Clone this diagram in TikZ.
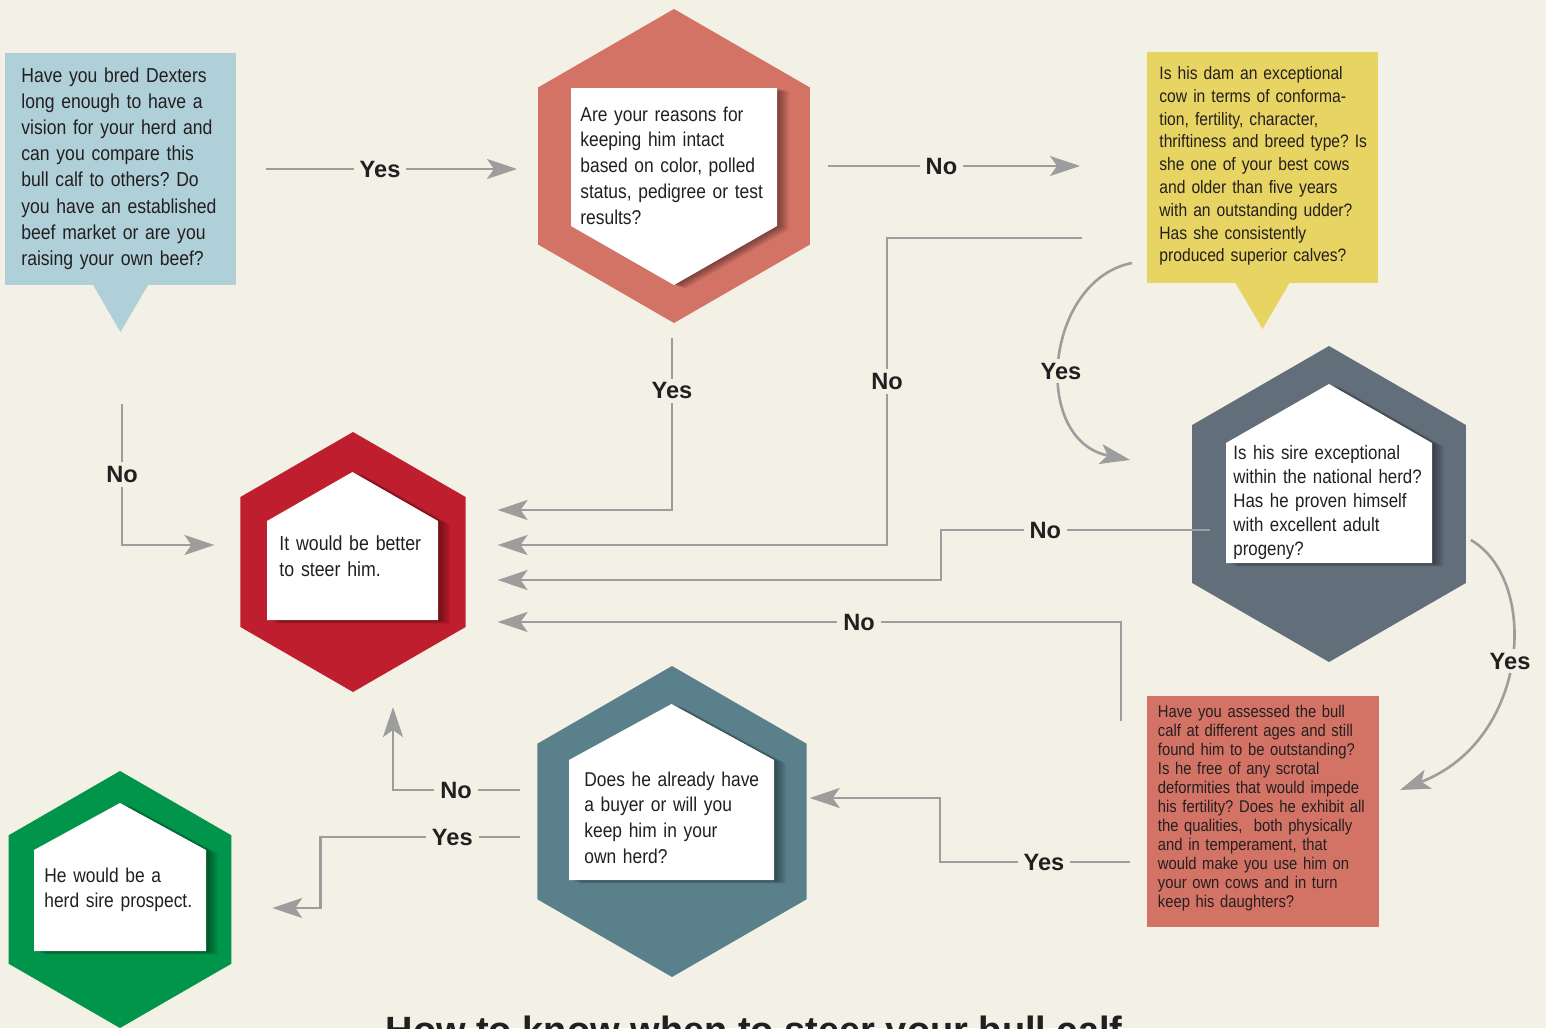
\documentclass[tikz,border=0pt]{standalone}
\usepackage{fontspec}
\setmainfont{Liberation Sans}[FakeStretch=0.87]
\newfontfamily\labelfont{Liberation Sans}
\usetikzlibrary{shapes.geometric,arrows.meta,calc}
\frenchspacing

\definecolor{bgcream}{RGB}{243,240,229}
\definecolor{inktext}{RGB}{35,31,32}
\definecolor{linegray}{RGB}{158,157,157}
\definecolor{boxblue}{RGB}{175,208,216}
\definecolor{boxyellow}{RGB}{232,212,98}
\definecolor{hexsalmon}{RGB}{211,115,102}
\definecolor{hexred}{RGB}{190,30,45}
\definecolor{hexslate}{RGB}{99,110,123}
\definecolor{hexteal}{RGB}{90,128,139}
\definecolor{hexgreen}{RGB}{0,149,74}

\tikzset{
  hexa/.style={regular polygon, regular polygon sides=6, shape border rotate=30,
    inner sep=0pt, outer sep=0pt},
  qbox/.style={rectangle, inner sep=0pt, outer sep=0pt},
  qtext/.style={anchor=base west, inner sep=0pt, text width=130pt, align=left,
    text=inktext, font=\fontsize{10}{12.9}\selectfont},
  flow/.style={draw=linegray, line width=1.3pt,
    -{Stealth[length=15pt, width=10pt, inset=3.5pt]}},
  lbl/.style={fill=bgcream, inner xsep=3pt, inner ysep=2pt, text=inktext,
    font=\labelfont\bfseries\fontsize{11.8}{14}\selectfont},
}

% house shape: left, right, shoulder, top, bottom
\newcommand{\housepath}[5]{(#1,#5) -- (#1,#3) -- ({0.5*(#1+#2)},#4) -- (#2,#3) -- (#2,#5) -- cycle}
% soft shadow under a white card
\newcommand{\softshadow}[1]{%
  \foreach \d in {1,...,12} {
    \fill[black, opacity=0.04, shift={(\d,0.3*\d)}] #1;
  }}

\begin{document}
\begin{tikzpicture}[x=0.5pt, y=-0.5pt]
  \path[use as bounding box, clip] (0,0) rectangle (1546,1028);
  \fill[bgcream] (0,0) rectangle (1546,1028);

  % question boxes
  \node[qbox, fill=boxblue, minimum width=115.5pt, minimum height=116pt] (dexters) at (120.5,169) {};
  \fill[boxblue] ($(dexters.south)+(-27.5,0)$) -- ($(dexters.south)+(27.5,0)$) -- ($(dexters.south)+(0,47)$) -- cycle;
  \node[qbox, fill=boxyellow, minimum width=115.5pt, minimum height=115.5pt] (dam) at (1262.5,167.5) {};
  \fill[boxyellow] ($(dam.south)+(-27,0)$) -- ($(dam.south)+(27,0)$) -- ($(dam.south)+(0,46)$) -- cycle;
  \node[qbox, fill=hexsalmon, minimum width=116pt, minimum height=115.5pt] (assess) at (1263,811.5) {};

  % hexagons
  \node[hexa, fill=hexsalmon, minimum size=157pt] (reasons) at (674,166) {};
  \node[hexa, fill=hexred, minimum size=130pt] (steer) at (353,562) {};
  \node[hexa, fill=hexslate, minimum size=158pt] (sire) at (1329,504) {};
  \node[hexa, fill=hexteal, minimum size=155.5pt] (buyer) at (672,821.5) {};
  \node[hexa, fill=hexgreen, minimum size=128.5pt] (prospect) at (120,899.5) {};

  % white cards
  \softshadow{(571,88) -- (777,88) -- (777,226) -- (674,285) -- (571,226) -- cycle}
  \fill[white] (571,88) -- (777,88) -- (777,226) -- (674,285) -- (571,226) -- cycle;
  \softshadow{\housepath{267}{438}{521}{472}{620}}
  \fill[white] \housepath{267}{438}{521}{472}{620};
  \softshadow{\housepath{1226}{1432}{443}{384}{563}}
  \fill[white] \housepath{1226}{1432}{443}{384}{563};
  \softshadow{\housepath{569}{774}{760}{704}{880}}
  \fill[white] \housepath{569}{774}{760}{704}{880};
  \softshadow{\housepath{34}{206}{850}{803}{951}}
  \fill[white] \housepath{34}{206}{850}{803}{951};

  % texts
  \node[qtext, font=\fontsize{10.1}{13.1}\selectfont] (dexterstext) at (21,82) {Have you bred Dexters\\long enough to have a\\vision for your herd and\\can you compare this\\bull calf to others? Do\\you have an established\\beef market or are you\\raising your own beef?};
  \node[qtext] (reasonstext) at (580,121) {Are your reasons for\\keeping him intact\\based on color, polled\\status, pedigree or test\\results?};
  \node[qtext, font=\fontsize{9}{11.4}\selectfont] (damtext) at (1159,79.5) {Is his dam an exceptional\\cow in terms of conforma-\\tion, fertility, character,\\thriftiness and breed type? Is\\she one of your best cows\\and older than five years\\with an outstanding udder?\\Has she consistently\\produced superior calves?};
  \node[qtext, font=\fontsize{10.2}{13.3}\selectfont] (steertext) at (279,550) {It would be better\\to steer him.};
  \node[qtext, font=\fontsize{9.7}{12.1}\selectfont] (siretext) at (1233,459) {Is his sire exceptional\\within the national herd?\\Has he proven himself\\with excellent adult\\progeny?};
  \node[qtext, font=\fontsize{8.5}{9.5}\selectfont] (assesstext) at (1157.5,717.5) {Have you assessed the bull\\calf at different ages and still\\found him to be outstanding?\\Is he free of any scrotal\\deformities that would impede\\his fertility? Does he exhibit all\\the qualities, \ both physically\\and in temperament, that\\would make you use him on\\your own cows and in turn\\keep his daughters?};
  \node[qtext] (buyertext) at (584,786) {Does he already have\\a buyer or will you\\keep him in your\\own herd?};
  \node[qtext] (prospecttext) at (44,882) {He would be a\\herd sire prospect.};

  % connectors
  \draw[flow, shorten <=15pt, shorten >=10.5pt] (dexters.east) -- (dexters.east -| reasons.west) node[lbl, pos=0.477] {Yes};
  \draw[flow, shorten <=9pt, shorten >=33.5pt] (reasons.east) -- (reasons.east -| dam.west) node[lbl, pos=0.39] {No};
  \draw[flow] ($(dexters.south)+(1.5,119)$) |- ($(steer.west)+(-26,-17)$) node[lbl, pos=0.25] {No};
  \draw[flow] ($(reasons.south)+(-2,15)$) |- ($(steer.east)+(32,-52)$) node[lbl, pos=0.154] {Yes};
  \draw[flow] ($(dam.west)+(-65,70.5)$) -- ++(-195,0) |- ($(steer.east)+(32,-17)$) node[lbl, pos=0.234] {No};
  \draw[flow] ($(dam.south west)+(-15,-20)$) .. controls +(-87,17) and +(-100,-20) .. ($(sire.west)+(-62,-44)$) node[lbl, pos=0.54] {Yes};
  \draw[flow] ($(sire.west)+(18,26)$) -- ++(-269,0) node[lbl, pos=0.613] {No} |- ($(steer.east)+(32,18)$);
  \draw[flow] ($(sire.east)+(5,36)$) .. controls +(69,40) and +(130,-50) .. ($(assess.east)+(21,-21.5)$) node[lbl, pos=0.5] {Yes};
  \draw[flow] ($(assess.north west)+(-26,25)$) |- ($(steer.east)+(32,60)$) node[lbl, pos=0.71] {No};
  \draw[flow] ($(assess.west)+(-17,50.5)$) -- ++(-190,0) node[lbl, pos=0.453] {Yes} |- ($(buyer.east)+(3,-23.5)$);
  \draw[flow] ($(buyer.west)+(-17,-31.5)$) -| ($(steer.south)+(40,15)$) node[lbl, pos=0.252] {No};
  \draw[flow] ($(buyer.west)+(-17,15.5)$) -- ++(-200,0) node[lbl, pos=0.34] {Yes} |- ($(prospect.east)+(41,8.5)$);

  % title, cut by the page edge
  \node[anchor=base, inner sep=0pt, text=inktext, font=\labelfont\bfseries\fontsize{19}{22}\selectfont] (title) at (754,1043) {How to know when to steer your bull calf};
\end{tikzpicture}
\end{document}
